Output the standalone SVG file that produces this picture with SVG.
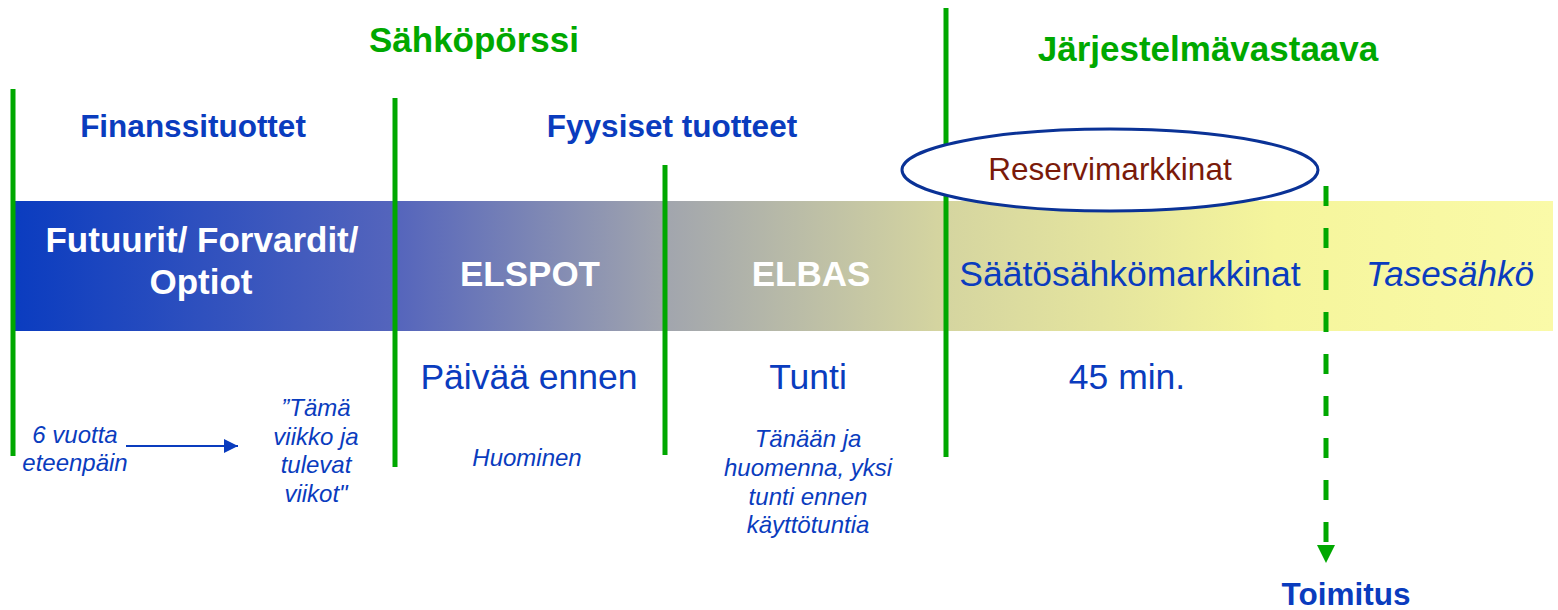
<svg xmlns="http://www.w3.org/2000/svg" width="1558" height="610" viewBox="0 0 1558 610">
<style>
.g{fill:#00a800;font-family:"Liberation Sans",Arial,sans-serif;font-weight:bold;font-size:35px;text-anchor:middle}
.hb{fill:#0a3cbe;font-family:"Liberation Sans",Arial,sans-serif;font-weight:bold;font-size:31.5px;text-anchor:middle}
.w{fill:#ffffff;font-family:"Liberation Sans",Arial,sans-serif;font-weight:bold;font-size:35px;text-anchor:middle}
.b{fill:#0a3cbe;font-family:"Liberation Sans",Arial,sans-serif;font-size:35.5px;text-anchor:middle}
.bi{fill:#0a3cbe;font-family:"Liberation Sans",Arial,sans-serif;font-style:italic;font-size:24px;text-anchor:middle}
.vl{stroke:#00a800;stroke-width:5;fill:none}
</style>
<defs>
<linearGradient id="bar" x1="12" y1="0" x2="1553" y2="0" gradientUnits="userSpaceOnUse">
<stop offset="0" stop-color="#0a3cc0"/>
<stop offset="0.25" stop-color="#5565bc"/>
<stop offset="0.42" stop-color="#a0a4ae"/>
<stop offset="0.6" stop-color="#d4d4a0"/>
<stop offset="0.82" stop-color="#f5f59c"/>
<stop offset="1" stop-color="#fafaa8"/>
</linearGradient>
<marker id="ab" viewBox="0 0 10 10" refX="10" refY="5" markerWidth="7" markerHeight="7" orient="auto" markerUnits="strokeWidth">
<path d="M0,0 L10,5 L0,10 z" fill="#0a3cbe"/>
</marker>
</defs>
<rect id="bar-bg" x="12" y="201" width="1541" height="130" fill="url(#bar)"/>
<g id="headers">
<text class="g" x="474" y="52">Sähköpörssi</text>
<text class="g" x="1208" y="61">Järjestelmävastaava</text>
<text class="hb" x="193" y="137">Finanssituottet</text>
<text class="hb" x="672" y="137">Fyysiset tuotteet</text>
</g>
<g id="connectors">
<line class="vl" x1="13" y1="89" x2="13" y2="456"/>
<line class="vl" x1="395" y1="98" x2="395" y2="467"/>
<line class="vl" x1="665" y1="165" x2="665" y2="455"/>
<line class="vl" x1="946" y1="8" x2="946" y2="457"/>
<line x1="1326" y1="186" x2="1326" y2="545" stroke="#00a800" stroke-width="5" stroke-dasharray="20 22"/>
<path d="M1317,545 L1335,545 L1326,563 z" fill="#00a800"/>
<line x1="126" y1="446" x2="238" y2="446" stroke="#0a3cbe" stroke-width="2" marker-end="url(#ab)"/>
</g>
<g id="reserve">
<ellipse cx="1110" cy="170" rx="208" ry="41" fill="#ffffff" stroke="#0a3296" stroke-width="3"/>
<text x="1110" y="180" font-family="Liberation Sans, Arial, sans-serif" font-size="31.5" fill="#7a1a0a" text-anchor="middle">Reservimarkkinat</text>
</g>
<g id="futures">
<text class="w" x="202" y="252">Futuurit/ Forvardit/</text>
<text class="w" x="201" y="294">Optiot</text>
<text class="bi"><tspan x="75" y="443">6 vuotta</tspan><tspan x="75" y="471">eteenpäin</tspan></text>
<text class="bi"><tspan x="316" y="416">”Tämä</tspan><tspan x="316" y="445">viikko ja</tspan><tspan x="316" y="473">tulevat</tspan><tspan x="316" y="502">viikot"</tspan></text>
</g>
<g id="elspot">
<text class="w" x="530" y="286">ELSPOT</text>
<text class="b" x="529" y="389">Päivää ennen</text>
<text class="bi" x="527" y="466">Huominen</text>
</g>
<g id="elbas">
<text class="w" x="811" y="286">ELBAS</text>
<text class="b" x="808" y="389">Tunti</text>
<text class="bi"><tspan x="808" y="447">Tänään ja</tspan><tspan x="808" y="476">huomenna, yksi</tspan><tspan x="808" y="505">tunti ennen</tspan><tspan x="808" y="533">käyttötuntia</tspan></text>
</g>
<g id="saato">
<text x="1130" y="286" font-family="Liberation Sans, Arial, sans-serif" font-size="35.5" fill="#0a3cbe" text-anchor="middle">Säätösähkömarkkinat</text>
<text class="b" x="1127" y="389">45 min.</text>
</g>
<g id="tase">
<text x="1450" y="286" font-family="Liberation Sans, Arial, sans-serif" font-size="35" font-style="italic" fill="#0a3cbe" text-anchor="middle">Tasesähkö</text>
</g>
<g id="toimitus">
<text class="hb" x="1346" y="605">Toimitus</text>
</g>
</svg>
